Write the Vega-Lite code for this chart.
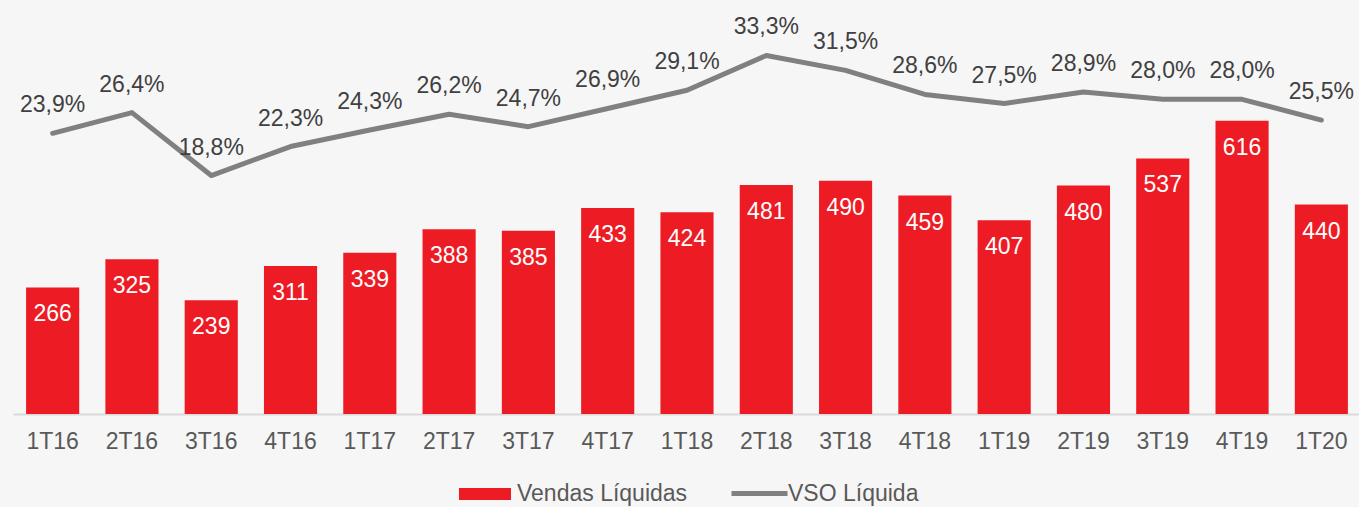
{
  "$schema": "https://vega.github.io/schema/vega-lite/v6.json",
  "autosize": {"type": "none"},
  "padding": {"left": 13, "top": 0, "right": 0, "bottom": 93},
  "width": 1348,
  "height": 414,
  "background": "#f6f6f6",
  "config": {
    "view": {"stroke": null},
    "font": "Liberation Sans",
    "locale": {"number": {"decimal": ",", "thousands": ".", "grouping": [3], "currency": ["", ""]}}
  },
  "data": {
    "values": [
      {"q": "1T16", "vendas": 266, "vso": 0.239, "s1": "Vendas Líquidas", "s2": "VSO Líquida"},
      {"q": "2T16", "vendas": 325, "vso": 0.264, "s1": "Vendas Líquidas", "s2": "VSO Líquida"},
      {"q": "3T16", "vendas": 239, "vso": 0.188, "s1": "Vendas Líquidas", "s2": "VSO Líquida"},
      {"q": "4T16", "vendas": 311, "vso": 0.223, "s1": "Vendas Líquidas", "s2": "VSO Líquida"},
      {"q": "1T17", "vendas": 339, "vso": 0.243, "s1": "Vendas Líquidas", "s2": "VSO Líquida"},
      {"q": "2T17", "vendas": 388, "vso": 0.262, "s1": "Vendas Líquidas", "s2": "VSO Líquida"},
      {"q": "3T17", "vendas": 385, "vso": 0.247, "s1": "Vendas Líquidas", "s2": "VSO Líquida"},
      {"q": "4T17", "vendas": 433, "vso": 0.269, "s1": "Vendas Líquidas", "s2": "VSO Líquida"},
      {"q": "1T18", "vendas": 424, "vso": 0.291, "s1": "Vendas Líquidas", "s2": "VSO Líquida"},
      {"q": "2T18", "vendas": 481, "vso": 0.333, "s1": "Vendas Líquidas", "s2": "VSO Líquida"},
      {"q": "3T18", "vendas": 490, "vso": 0.315, "s1": "Vendas Líquidas", "s2": "VSO Líquida"},
      {"q": "4T18", "vendas": 459, "vso": 0.286, "s1": "Vendas Líquidas", "s2": "VSO Líquida"},
      {"q": "1T19", "vendas": 407, "vso": 0.275, "s1": "Vendas Líquidas", "s2": "VSO Líquida"},
      {"q": "2T19", "vendas": 480, "vso": 0.289, "s1": "Vendas Líquidas", "s2": "VSO Líquida"},
      {"q": "3T19", "vendas": 537, "vso": 0.280, "s1": "Vendas Líquidas", "s2": "VSO Líquida"},
      {"q": "4T19", "vendas": 616, "vso": 0.280, "s1": "Vendas Líquidas", "s2": "VSO Líquida"},
      {"q": "1T20", "vendas": 440, "vso": 0.255, "s1": "Vendas Líquidas", "s2": "VSO Líquida"}
    ]
  },
  "encoding": {
    "x": {
      "field": "q", "type": "nominal", "sort": null,
      "scale": {"paddingInner": 0.33, "paddingOuter": 0.165},
      "axis": {"title": null, "labelAngle": 0, "labelFontSize": 23, "labelColor": "#595959", "labelPadding": 16, "ticks": false, "domainColor": "#d9d9d9", "domainWidth": 2, "grid": false}
    }
  },
  "layer": [
    {
      "layer": [
        {
          "mark": {"type": "bar"},
          "encoding": {
            "y": {"field": "vendas", "type": "quantitative", "scale": {"domain": [0, 870]}, "axis": null},
            "fill": {"field": "s1", "type": "nominal", "scale": {"range": ["#ed1c24"]},
              "legend": {"title": null, "orient": "none", "legendX": 446, "legendY": 468, "padding": 0, "symbolType": "M-1,-0.23H1V0.23H-1Z", "symbolSize": 2704, "symbolStrokeWidth": 0, "symbolOpacity": 1, "labelFontSize": 23, "labelColor": "#595959", "labelOffset": 6, "labelLimit": 400}}
          }
        },
        {
          "mark": {"type": "text", "color": "white", "fontSize": 23, "baseline": "middle", "dy": 27},
          "encoding": {
            "y": {"field": "vendas", "type": "quantitative", "scale": {"domain": [0, 870]}, "axis": null},
            "text": {"field": "vendas", "type": "quantitative"}
          }
        }
      ]
    },
    {
      "layer": [
        {
          "mark": {"type": "line", "strokeWidth": 5, "strokeCap": "round", "strokeJoin": "round"},
          "encoding": {
            "y": {"field": "vso", "type": "quantitative", "scale": {"domain": [-0.1, 0.4]}, "axis": null},
            "stroke": {"field": "s2", "type": "nominal", "scale": {"range": ["#808080"]},
              "legend": {"title": null, "orient": "none", "legendX": 716, "legendY": 463, "padding": 0, "symbolType": "M-1,0H1", "symbolSize": 3136, "symbolStrokeWidth": 5, "labelFontSize": 23, "labelColor": "#595959", "labelOffset": -2, "labelLimit": 400}}
          }
        },
        {
          "mark": {"type": "text", "color": "#404040", "fontSize": 23, "baseline": "middle", "dy": -28},
          "encoding": {
            "y": {"field": "vso", "type": "quantitative", "scale": {"domain": [-0.1, 0.4]}, "axis": null},
            "text": {"field": "vso", "type": "quantitative", "format": ".1%"}
          }
        }
      ]
    }
  ],
  "resolve": {"scale": {"y": "independent"}}
}
